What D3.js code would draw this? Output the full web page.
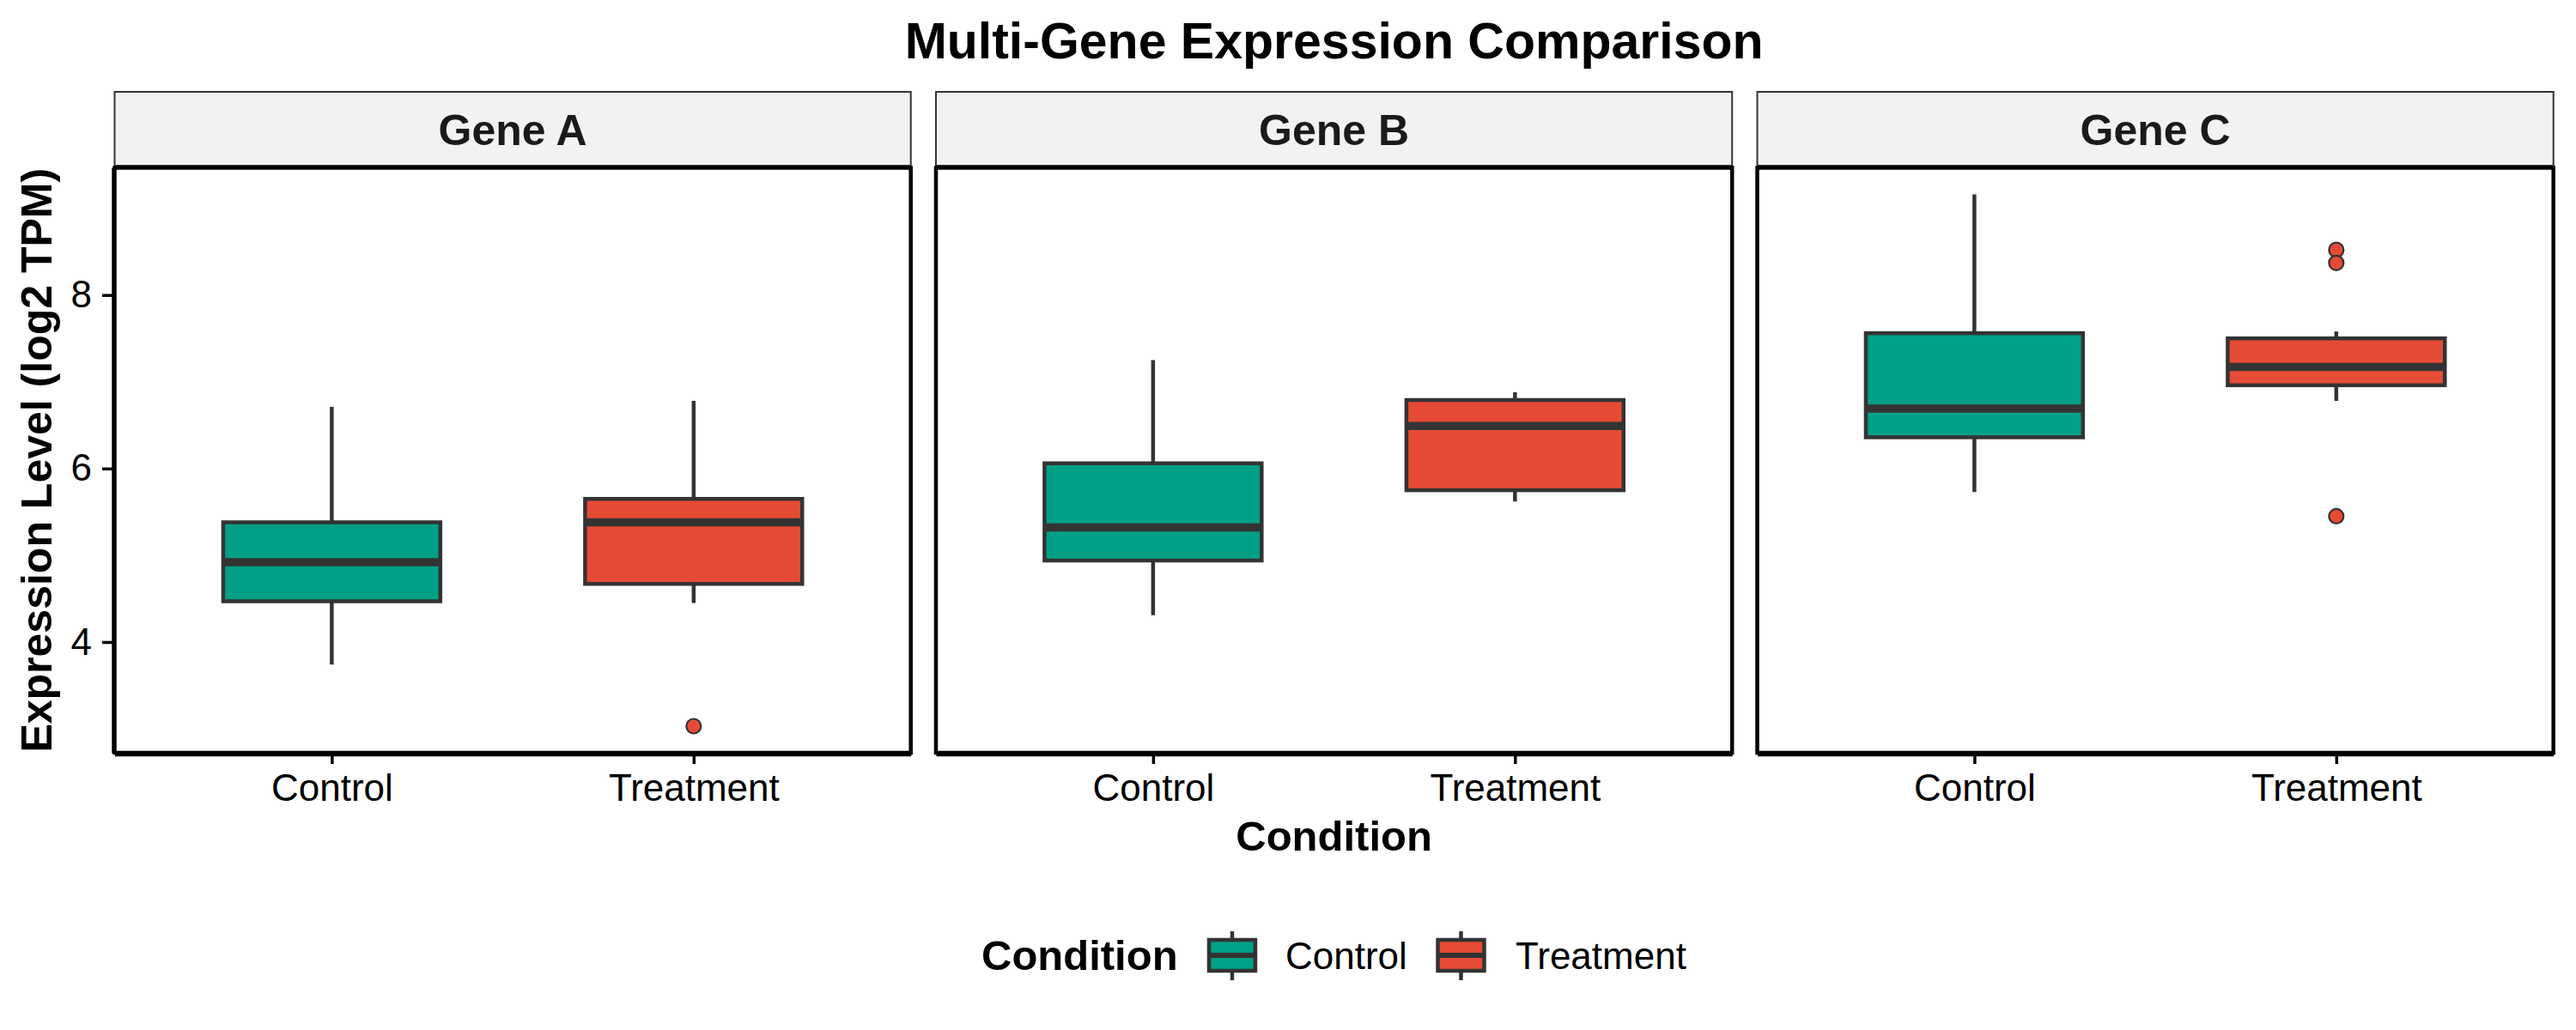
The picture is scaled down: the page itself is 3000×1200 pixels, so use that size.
<!DOCTYPE html>
<html>
<head>
<meta charset="utf-8">
<script src="https://cdn.jsdelivr.net/npm/d3@7"></script>
<style>
  body { margin: 0; background: #fff; }
  text { font-family: "Liberation Sans", Arial, Helvetica, sans-serif; }
</style>
</head>
<body>
<div id="chart"></div>
<script>
// summary stats, one [Control, Treatment] pair per gene
const genes = ['Gene A', 'Gene B', 'Gene C'];
const conditions = ['Control', 'Treatment'];
const whiskerLow  = [[3.74, 4.45], [4.31, 5.62], [5.73, 6.78]];
const q1          = [[4.47, 4.67], [4.94, 5.75], [6.36, 6.96]];
const median      = [[4.92, 5.38], [5.32, 6.49], [6.69, 7.17]];
const q3          = [[5.38, 5.65], [6.06, 6.79], [7.56, 7.50]];
const whiskerHigh = [[6.71, 6.78], [7.25, 6.88], [9.16, 7.58]];
const outliers    = [[[], [3.03]], [[], []], [[], [8.52, 8.37, 5.45]]];
const yTicks = [4, 6, 8];
const colors = ['#00A087', '#E64B35'];

const width = 3000, height = 1200;
const panelLeft = 133.5, panelW = 927.2, panelGap = 29.3;
const panelTop = 195.5, panelBottom = 877;
const stripTop = 107, stripBottom = 193;
const lineCol = '#333333';

const svg = d3.select('#chart').append('svg')
  .attr('width', width)
  .attr('height', height)
  .attr('viewBox', '0 0 ' + width + ' ' + height);

svg.append('rect').attr('width', width).attr('height', height).attr('fill', '#fff');

// shared y scale, ggplot style 5% expansion
let allVals = [];
for (let g = 0; g < genes.length; g++) {
  for (let c = 0; c < conditions.length; c++) {
    allVals.push(whiskerLow[g][c], whiskerHigh[g][c], ...outliers[g][c]);
  }
}
const ext = d3.extent(allVals);
const pad = (ext[1] - ext[0]) * 0.05;
const y = d3.scaleLinear()
  .domain([ext[0] - pad, ext[1] + pad])
  .range([panelBottom, panelTop]);

genes.forEach((gene, g) => {
  const x0 = panelLeft + g * (panelW + panelGap);
  const x1 = x0 + panelW;
  const x = d3.scalePoint().domain(conditions).range([x0, x1]).padding(0.6);
  const boxW = x.step() * 0.6;

  const panel = svg.append('g').attr('class', 'panel');

  // strip
  panel.append('rect')
    .attr('x', x0).attr('y', stripTop)
    .attr('width', panelW).attr('height', stripBottom - stripTop)
    .attr('fill', '#F2F2F2')
    .attr('stroke', lineCol)
    .attr('stroke-width', 2);
  panel.append('text')
    .attr('x', (x0 + x1) / 2).attr('y', 169)
    .attr('text-anchor', 'middle')
    .attr('font-size', 50).attr('font-weight', 'bold')
    .attr('fill', '#1A1A1A')
    .text(gene);

  conditions.forEach((cond, c) => {
    const cx = x(cond);
    const grp = panel.append('g');
    grp.append('line')
      .attr('x1', cx).attr('x2', cx)
      .attr('y1', y(whiskerLow[g][c])).attr('y2', y(whiskerHigh[g][c]))
      .attr('stroke', lineCol).attr('stroke-width', 4.5);
    grp.append('rect')
      .attr('x', cx - boxW / 2).attr('width', boxW)
      .attr('y', y(q3[g][c]))
      .attr('height', y(q1[g][c]) - y(q3[g][c]))
      .attr('fill', colors[c])
      .attr('stroke', lineCol).attr('stroke-width', 4.5);
    grp.append('line')
      .attr('x1', cx - boxW / 2).attr('x2', cx + boxW / 2)
      .attr('y1', y(median[g][c])).attr('y2', y(median[g][c]))
      .attr('stroke', lineCol).attr('stroke-width', 9.5);
    grp.selectAll('circle')
      .data(outliers[g][c])
      .enter().append('circle')
      .attr('cx', cx).attr('cy', d => y(d))
      .attr('r', 8.5)
      .attr('fill', colors[c])
      .attr('stroke', lineCol).attr('stroke-width', 2.2);
  });

  // panel border
  panel.append('rect')
    .attr('x', x0).attr('y', panelTop)
    .attr('width', panelW).attr('height', panelBottom - panelTop)
    .attr('fill', 'none')
    .attr('stroke', '#000').attr('stroke-width', 4.5);

  // bottom axis on every panel
  const xAxis = panel.append('g')
    .attr('transform', 'translate(0,' + (panelBottom + 2) + ')')
    .call(d3.axisBottom(x).tickSize(11).tickSizeOuter(0).tickPadding(12));
  xAxis.select('.domain').attr('stroke', '#000').attr('stroke-width', 3.5);
  xAxis.selectAll('.tick line').attr('stroke', '#000').attr('stroke-width', 3.5);
  xAxis.selectAll('.tick text')
    .attr('font-size', 44).attr('fill', '#000')
    .style('font-family', '"Liberation Sans", Arial, Helvetica, sans-serif');

  // left axis only on the first panel
  if (g === 0) {
    const yAxis = panel.append('g')
      .attr('transform', 'translate(' + (x0 - 2) + ',0)')
      .call(d3.axisLeft(y).tickValues(yTicks).tickFormat(d3.format('d'))
        .tickSize(12.5).tickSizeOuter(0).tickPadding(12));
    yAxis.select('.domain').attr('stroke', '#000').attr('stroke-width', 3.5);
    yAxis.selectAll('.tick line').attr('stroke', '#000').attr('stroke-width', 3.5);
    yAxis.selectAll('.tick text')
      .attr('font-size', 44).attr('fill', '#000')
      .style('font-family', '"Liberation Sans", Arial, Helvetica, sans-serif');
  }
});

const plotCenter = panelLeft + (3 * panelW + 2 * panelGap) / 2;

svg.append('text')
  .attr('x', plotCenter).attr('y', 68)
  .attr('text-anchor', 'middle')
  .attr('font-size', 59).attr('font-weight', 'bold')
  .text('Multi-Gene Expression Comparison');

svg.append('text')
  .attr('x', plotCenter).attr('y', 991)
  .attr('text-anchor', 'middle')
  .attr('font-size', 49).attr('font-weight', 'bold')
  .text('Condition');

svg.append('text')
  .attr('transform', 'translate(60,' + ((panelTop + panelBottom) / 2) + ') rotate(-90)')
  .attr('text-anchor', 'middle')
  .attr('font-size', 50).attr('font-weight', 'bold')
  .text('Expression Level (log2 TPM)');

// legend
const legend = svg.append('g').attr('transform', 'translate(0,1113)');
legend.append('text')
  .attr('x', 1143).attr('y', 17)
  .attr('font-size', 49).attr('font-weight', 'bold')
  .text('Condition');

const keyX = [1435, 1701.5];
const labelX = [1497, 1765];
conditions.forEach((cond, c) => {
  const k = legend.append('g').attr('transform', 'translate(' + keyX[c] + ',0)');
  k.append('line')
    .attr('x1', 0).attr('x2', 0).attr('y1', -28).attr('y2', 29)
    .attr('stroke', lineCol).attr('stroke-width', 4.5);
  k.append('rect')
    .attr('x', -27).attr('y', -18).attr('width', 54).attr('height', 36)
    .attr('fill', colors[c])
    .attr('stroke', lineCol).attr('stroke-width', 4.5);
  k.append('line')
    .attr('x1', -27).attr('x2', 27).attr('y1', 0).attr('y2', 0)
    .attr('stroke', lineCol).attr('stroke-width', 6);
  legend.append('text')
    .attr('x', labelX[c]).attr('y', 16)
    .attr('font-size', 44)
    .text(cond);
});
</script>
</body>
</html>
